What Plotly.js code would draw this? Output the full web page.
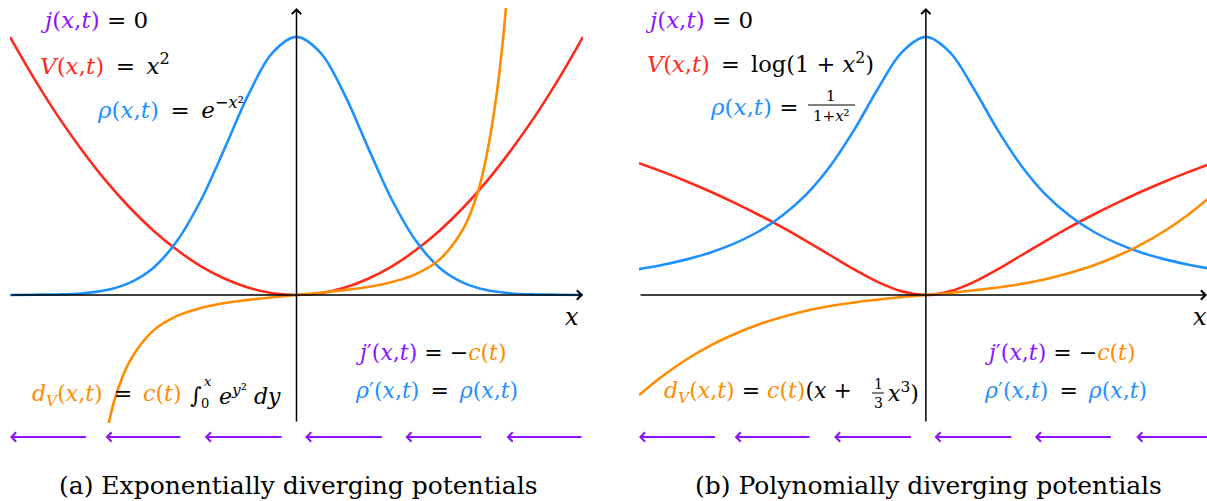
<!DOCTYPE html>
<html>
<head>
<meta charset="utf-8">
<script src="https://cdn.plot.ly/plotly-3.0.1.min.js"></script>
<style>html,body{margin:0;padding:0;background:#fff;}#chart{width:1207px;height:501px;}</style>
</head>
<body>
<div id="chart"></div>
<script>
// ---------- data ----------
const xs = [-3,-2.75,-2.5,-2.25,-2,-1.75,-1.5,-1.25,-1,-0.75,-0.5,-0.25,0,0.25,0.5,0.75,1,1.25,1.5,1.75,2,2.25,2.5,2.75,3];

// panel (a)
const rhoA = [0.000,0.001,0.002,0.006,0.018,0.047,0.105,0.210,0.368,0.570,0.779,0.939,1.000,0.939,0.779,0.570,0.368,0.210,0.105,0.047,0.018,0.006,0.002,0.001,0.000];
const VA   = [1.000,0.840,0.694,0.563,0.444,0.340,0.250,0.174,0.111,0.063,0.028,0.007,0.000,0.007,0.028,0.063,0.111,0.174,0.250,0.340,0.444,0.563,0.694,0.840,1.000];
const xsDA = [-2.0,-1.9,-1.75,-1.5,-1.25,-1,-0.75,-0.5,-0.25,0,0.25,0.5,0.75,1,1.25,1.5,1.75,1.9,2.0,2.1,2.2,2.3];
const dA   = [-0.559,-0.400,-0.259,-0.138,-0.081,-0.050,-0.031,-0.019,-0.009,0,0.009,0.019,0.031,0.050,0.081,0.138,0.259,0.400,0.559,0.790,1.140,1.690];

// panel (b)
const rhoB = [0.100,0.117,0.138,0.165,0.200,0.246,0.308,0.390,0.500,0.640,0.800,0.941,1.000,0.941,0.800,0.640,0.500,0.390,0.308,0.246,0.200,0.165,0.138,0.117,0.100];
const VB   = [0.511,0.477,0.440,0.400,0.357,0.311,0.262,0.209,0.154,0.099,0.050,0.014,0.000,0.014,0.050,0.099,0.154,0.209,0.262,0.311,0.357,0.400,0.440,0.477,0.511];
const dB   = [-0.388,-0.313,-0.249,-0.195,-0.151,-0.114,-0.085,-0.061,-0.043,-0.029,-0.018,-0.008,0,0.008,0.018,0.029,0.043,0.061,0.085,0.114,0.151,0.195,0.249,0.313,0.388];

// flux arrows (tips and tails in x units)
const arrowTips  = [-3.0,-2.0,-0.96,0.09,1.14,2.2];
const arrowTails = [-2.19,-1.2,-0.14,0.91,1.95,3.0];

const captions = ['(a) Exponentially diverging potentials','(b) Polynomially diverging potentials'];

// ---------- styling ----------
const W = 1207, H = 501;
const C = {purple:'#8a14ff', red:'#ff2a1a', blue:'#1e90ff', orange:'#ff8c00', black:'#000'};
const FONT = 'DejaVu Serif';
const FS = 22;
const YR = [-0.496, 1.112];
const EQ = '\u2002=\u2002';

function line(x, y, color, xa, ya) {
  return {x:x, y:y, type:'scatter', mode:'lines', xaxis:xa, yaxis:ya,
          line:{color:color, width:2.6, shape:'spline', smoothing:1}, hoverinfo:'skip'};
}
const traces = [
  line(xs, VA, C.red, 'x', 'y'),
  line(xs, rhoA, C.blue, 'x', 'y'),
  line(xsDA, dA, C.orange, 'x', 'y'),
  line(xs, VB, C.red, 'x2', 'y2'),
  line(xs, rhoB, C.blue, 'x2', 'y2'),
  line(xs, dB, C.orange, 'x2', 'y2')
];

const col = (c, t) => '<span style="color:' + c + '">' + t + '</span>';
const px = (x) => x / W, py = (y) => 1 - y / H;
function T(x, y, text, opts) {
  opts = opts || {};
  return {xref:'paper', yref:'paper', x:px(x), y:py(y), text:text, showarrow:false,
          xanchor:opts.anchor || 'left', yanchor:'middle',
          font:{family:FONT, size:opts.size || FS, color:opts.color || C.black}};
}
const xt = '(<i>x</i>,<i>t</i>)';
const TOP = {size:23};

const ann = [];
// axes arrows
[['x','y',3],['x2','y2',2.94]].forEach(function(a){
  ann.push({xref:a[0], yref:a[1], axref:a[0], ayref:a[1], x:a[2], y:0, ax:-3, ay:0, text:'',
            showarrow:true, arrowhead:4, arrowsize:1.2, arrowwidth:1.5, arrowcolor:'#000', standoff:0});
  ann.push({xref:a[0], yref:a[1], axref:a[0], ayref:a[1], x:0, y:YR[1], ax:0, ay:YR[0], text:'',
            showarrow:true, arrowhead:4, arrowsize:1.2, arrowwidth:1.5, arrowcolor:'#000', standoff:0});
  for (let i = 0; i < arrowTips.length; i++) {
    ann.push({xref:a[0], yref:'paper', axref:a[0], ayref:'pixel', x:arrowTips[i], y:py(437),
              ax:arrowTails[i], ay:0, text:'', showarrow:true, arrowhead:4, arrowsize:0.9,
              arrowwidth:2, arrowcolor:C.purple, standoff:0});
  }
});

// panel (a) labels
ann.push(T(38, 20, col(C.purple, '<i>j</i>' + xt) + ' = 0', TOP));
ann.push(T(38, 64, col(C.red, '<i>V</i>' + xt) + EQ + '<i>x</i><sup>2</sup>', TOP));
ann.push(T(95, 108, col(C.blue, '<i>ρ</i>' + xt) + EQ + '<i>e</i><sup>−<i>x</i>²</sup>', TOP));
ann.push(T(30, 395, col(C.orange, '<i>d</i><sub><i>V</i></sub>' + xt) + EQ + col(C.orange, '<i>c</i>(<i>t</i>)')));
ann.push(T(196, 395, '∫', {anchor:'center', size:22}));
ann.push(T(208, 381, '<i>x</i>', {anchor:'center', size:13}));
ann.push(T(205, 403, '0', {anchor:'center', size:13}));
ann.push(T(217, 395, '<i>e</i><sup><i>y</i>²</sup> <i>dy</i>'));
ann.push(T(353, 352, col(C.purple, '<i>j</i>′' + xt) + ' = −' + col(C.orange, '<i>c</i>(<i>t</i>)')));
ann.push(T(353, 390, col(C.blue, '<i>ρ</i>′' + xt) + EQ + col(C.blue, '<i>ρ</i>' + xt)));
ann.push(T(572, 317, '<i>x</i>', {anchor:'center', size:24}));

// panel (b) labels
ann.push(T(643, 20, col(C.purple, '<i>j</i>' + xt) + ' = 0', TOP));
ann.push(T(645, 63, col(C.red, '<i>V</i>' + xt) + EQ + 'log(1 + <i>x</i><sup>2</sup>)', {size:22.5}));
ann.push(T(708, 107, col(C.blue, '<i>ρ</i>' + xt) + ' =', TOP));
ann.push(T(831, 96, '1', {anchor:'center', size:15}));
ann.push(T(831, 116, '1+<i>x</i>²', {anchor:'center', size:15}));
ann.push(T(662, 392, col(C.orange, '<i>d</i><sub><i>V</i></sub>' + xt) + ' = ' + col(C.orange, '<i>c</i>(<i>t</i>)') + '(<i>x</i> +'));
ann.push(T(878, 384, '1', {anchor:'center', size:14}));
ann.push(T(878, 403, '3', {anchor:'center', size:14}));
ann.push(T(886, 392, '<i>x</i><sup>3</sup>)'));
ann.push(T(982, 352, col(C.purple, '<i>j</i>′' + xt) + ' = −' + col(C.orange, '<i>c</i>(<i>t</i>)')));
ann.push(T(982, 390, col(C.blue, '<i>ρ</i>′' + xt) + EQ + col(C.blue, '<i>ρ</i>' + xt)));
ann.push(T(1200, 317, '<i>x</i>', {anchor:'center', size:24}));

// captions
ann.push(T(298, 485, captions[0], {anchor:'center', size:25}));
ann.push(T(928, 485, captions[1], {anchor:'center', size:25}));

const shapes = [
  {type:'line', xref:'paper', yref:'paper', x0:px(808), x1:px(855), y0:py(105), y1:py(105), line:{color:'#000', width:1}},
  {type:'line', xref:'paper', yref:'paper', x0:px(872), x1:px(884), y0:py(393), y1:py(393), line:{color:'#000', width:1}}
];

const axBase = {showgrid:false, zeroline:false, showticklabels:false, showline:false, ticks:'', fixedrange:true};
const layout = {
  width:W, height:H, margin:{l:0, r:0, t:0, b:0},
  paper_bgcolor:'#fff', plot_bgcolor:'rgba(0,0,0,0)', showlegend:false,
  xaxis: Object.assign({}, axBase, {domain:[10/W, 583/W], range:[-3, 3]}),
  yaxis: Object.assign({}, axBase, {domain:[78/H, 493/H], range:YR}),
  xaxis2: Object.assign({}, axBase, {domain:[639/W, 1], range:[-3, 2.94], anchor:'y2'}),
  yaxis2: Object.assign({}, axBase, {domain:[78/H, 493/H], range:YR, anchor:'x2'}),
  annotations: ann, shapes: shapes
};
Plotly.newPlot('chart', traces, layout, {staticPlot:true, displayModeBar:false});
</script>
</body>
</html>
